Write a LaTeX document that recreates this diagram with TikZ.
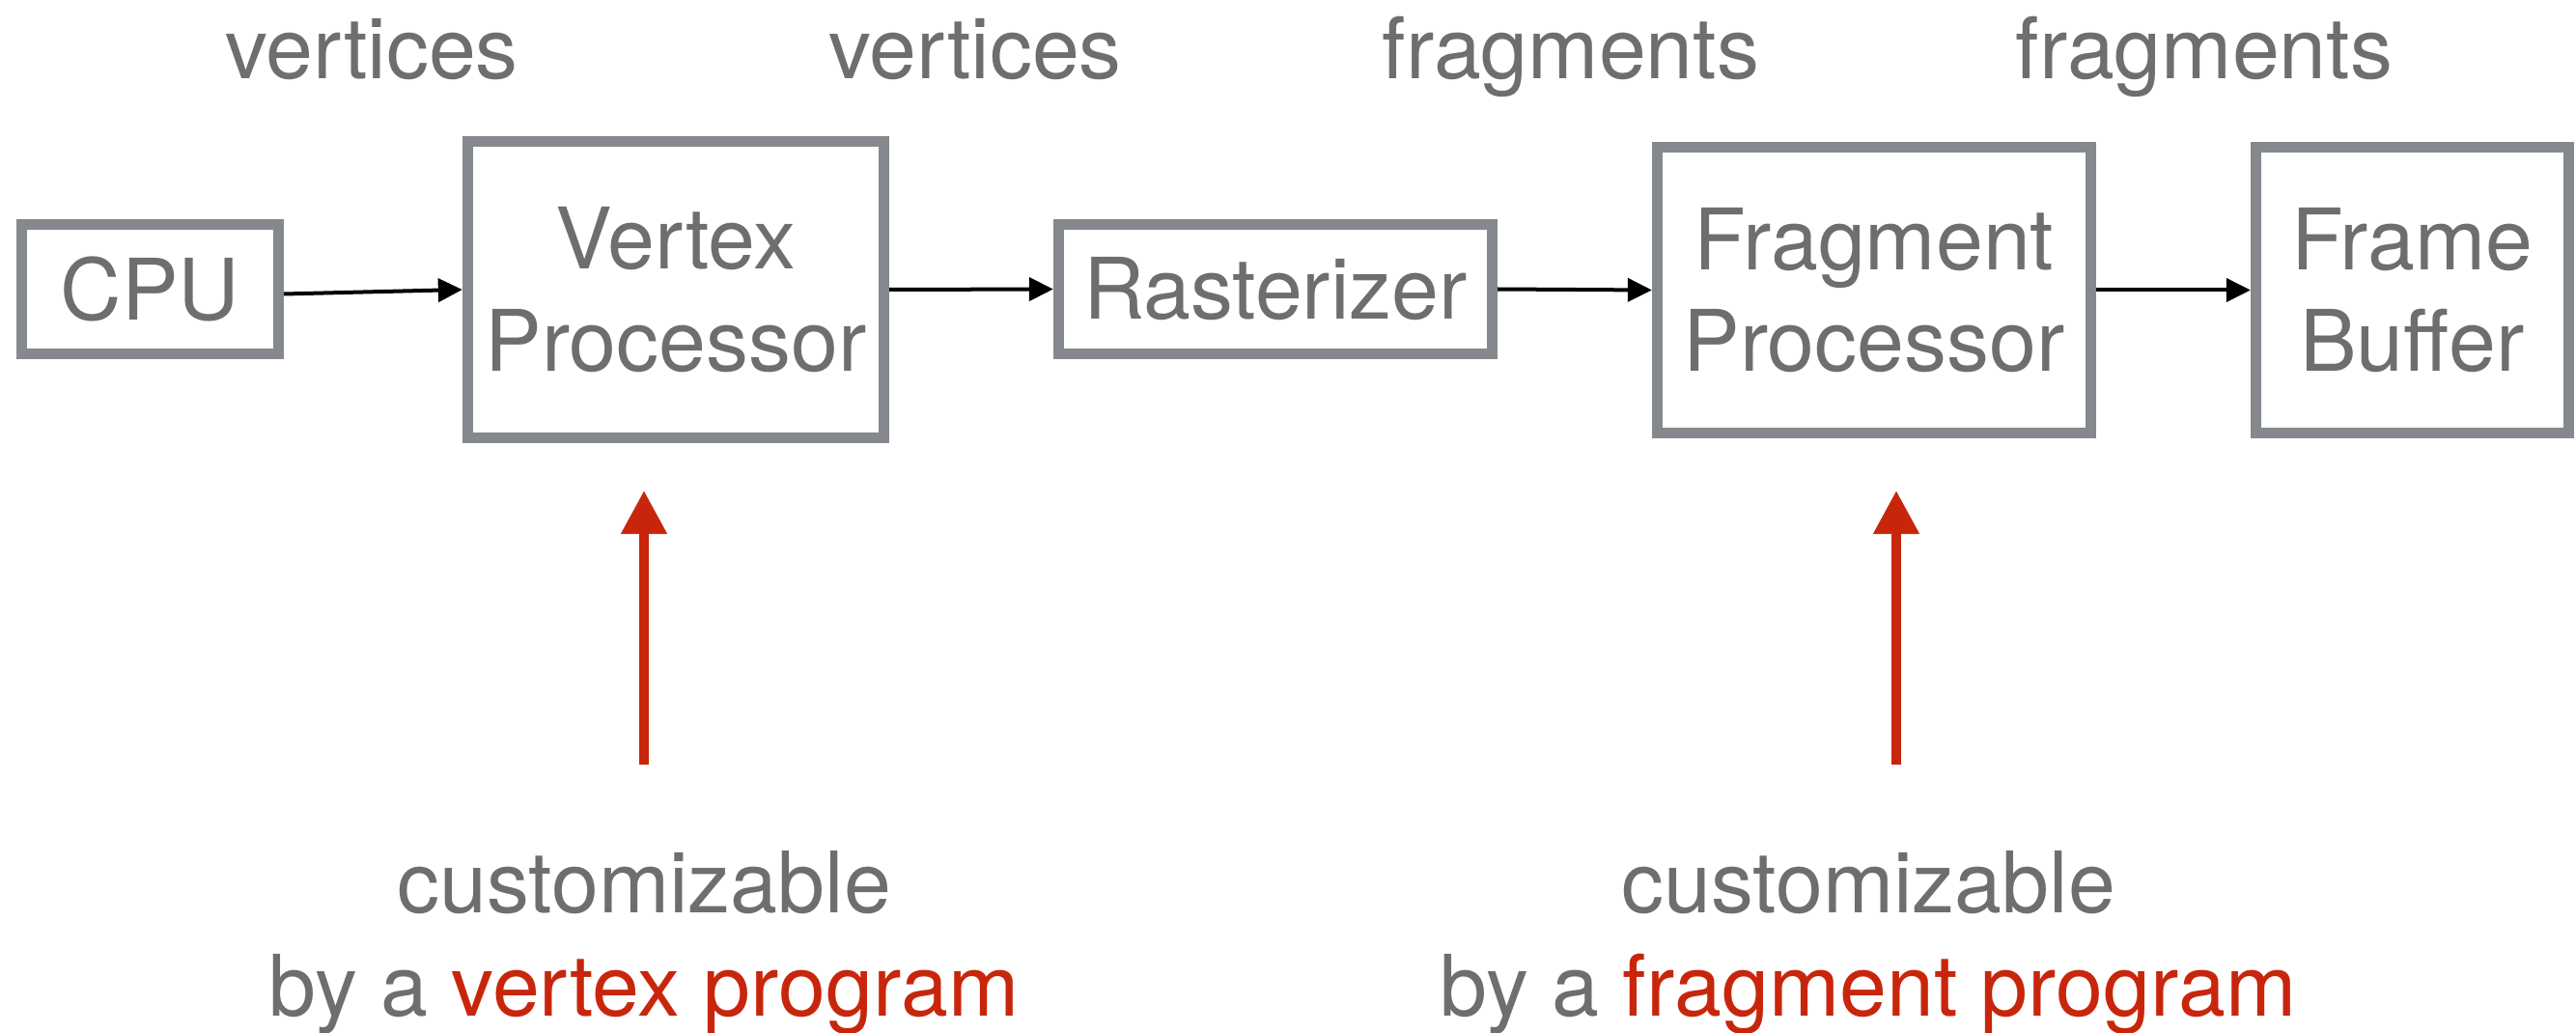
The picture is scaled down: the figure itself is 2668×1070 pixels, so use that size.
\documentclass[tikz,border=0pt]{standalone}
\usepackage{fontspec}
\setmainfont{TeX Gyre Heros}
\usetikzlibrary{arrows.meta,calc}
\definecolor{boxgray}{RGB}{133,136,141}
\definecolor{txtgray}{RGB}{110,110,110}
\definecolor{accred}{RGB}{200,38,12}
\tikzset{
  stagebox/.style={draw=boxgray, line width=0.11cm, fill=white, text=txtgray,
    font=\fontsize{25}{30}\selectfont, align=center, inner sep=0pt},
  flowlabel/.style={text=txtgray, font=\fontsize{25}{30}\selectfont, anchor=base, inner sep=0pt},
  flowarrow/.style={line width=0.04cm, -{Triangle[length=0.25cm,width=0.24cm]}},
  custarrow/.style={draw=accred, line width=0.105cm, -{Triangle[length=0.45cm,width=0.45cm]}}
}
\begin{document}
\begin{tikzpicture}[x=0.01cm, y=-0.01cm]
\useasboundingbox (0,0) rectangle (2668,1070);
% boxes
\node[stagebox, minimum width=2.66cm, minimum height=1.34cm] (cpu) at (155.5,299.5) {CPU};
\node[stagebox, minimum width=4.31cm, minimum height=3.07cm] (vp) at (700,300) {Vertex\\Processor};
\node[stagebox, minimum width=4.49cm, minimum height=1.34cm] (ras) at (1321,299.5) {Rasterizer};
\node[stagebox, minimum width=4.49cm, minimum height=2.96cm] (fp) at (1941,300.5) {Fragment\\Processor};
\node[stagebox, minimum width=3.24cm, minimum height=2.96cm] (fb) at (2498.5,300.5) {Frame\\Buffer};
% top labels
\node[flowlabel] (l1) at (385,82) {vertices};
\node[flowlabel] (l2) at (1010,82) {vertices};
\node[flowlabel] (l3) at (1627,82) {fragments};
\node[flowlabel] (l4) at (2283,82) {fragments};
% black arrows
\draw[flowarrow] ($(cpu.east)+(0,5)$) -- (vp.west);
\draw[flowarrow] (vp.east) -- (ras.west);
\draw[flowarrow] (ras.east) -- (fp.west);
\draw[flowarrow] (fp.east) -- (fb.west);
% red arrows
\coordinate (va) at (667,792);
\coordinate (vb) at (667,508);
\coordinate (fa) at (1964,792);
\coordinate (fb2) at (1964,508);
\draw[custarrow] (va) -- (vb);
\draw[custarrow] (fa) -- (fb2);
% bottom labels
\node[flowlabel] (c1) at (667,945) {customizable};
\node[flowlabel] (p1) at (667,1052) {by a \textcolor{accred}{vertex program}};
\node[flowlabel] (c2) at (1935,945) {customizable};
\node[flowlabel] (p2) at (1935,1052) {by a \textcolor{accred}{fragment program}};
\end{tikzpicture}
\end{document}
